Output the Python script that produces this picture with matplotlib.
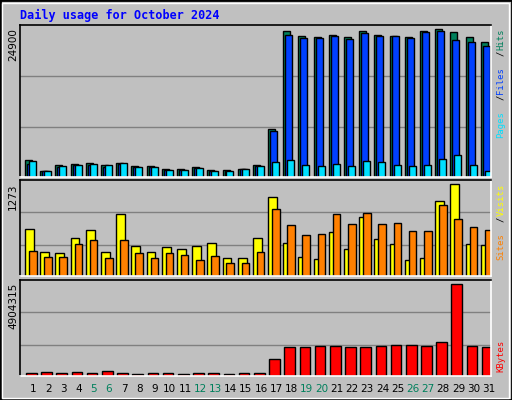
import matplotlib
matplotlib.use("Agg")
import matplotlib.pyplot as plt
from matplotlib.patches import Rectangle

days = list(range(1, 32))
weekends = [5, 6, 12, 13, 19, 20, 26, 27]
hits = [2845,1040,2025,2190,2350,2025,2350,1860,1860,1370,1370,1700,1200,1200,1370,2025,7930,
        23850,23030,22860,23190,22860,23850,23190,23030,22860,23850,24180,23690,22860,22040]
files = [2190,1040,1700,2020,2020,1700,2190,1700,1700,1200,1200,1530,1040,1040,1370,1860,7600,
         23190,22700,22700,23030,22540,23520,23030,23030,22700,23690,23850,22370,22040,21390]
pages = [2680,1040,1860,2020,2190,2020,2350,1700,1700,1200,1200,1530,1040,1040,1370,1860,2520,
         2840,2020,1860,2190,1860,2680,2520,2020,1860,2020,3010,3660,2020,1040]
visits = [650,332,318,526,636,332,858,415,332,401,373,415,456,249,249,526,1093,456,263,235,609,
          373,816,512,443,221,249,1037,1273,443,429]
sites = [346,263,263,443,498,249,498,318,249,318,290,221,277,180,180,332,927,705,567,581,857,
         719,871,719,733,622,622,982,788,678,636]
kbytes = [143190,196890,143190,196890,143190,250590,143190,89495,143190,143190,89495,143190,143190,
          89495,143190,143190,894950,1539300,1539300,1593000,1593000,1539300,1539300,1593000,
          1646700,1646700,1593000,1807800,4904315,1593000,1539300]
max_labels = ["24900", "1273", "4904315"]

BG = "#C0C0C0"
C_HITS, C_FILES, C_PAGES = "#00805C", "#0040FF", "#00E0FF"
C_VISITS, C_SITES, C_KB = "#FFFF00", "#FF8000", "#FF0000"

W, H = 512, 400
fig = plt.figure(figsize=(W/100, H/100), dpi=100, facecolor=BG)
fig.patches.append(Rectangle((0, 0), 1, 1, transform=fig.transFigure, fill=False, ec="black", lw=2))
fig.patches.append(Rectangle((2/W, 2/H), 1-5/W, 1-5/H, transform=fig.transFigure, fill=False, ec="white", lw=1))

def mkax(top, bottom):
    ax = fig.add_axes([20/W, 1-bottom/H, 471/W, (bottom-top)/H])
    ax.set_facecolor(BG)
    ax.set_xlim(0, 31)
    ax.set_xticks([]); ax.set_yticks([])
    for s in ["top", "left"]:
        ax.spines[s].set_color("black"); ax.spines[s].set_linewidth(1.2)
    for s in ["bottom", "right"]:
        ax.spines[s].set_color("white"); ax.spines[s].set_linewidth(1.2)
    return ax

def grid(ax, top):
    for f in (0.327, 0.662):
        ax.axhline(top*f, color="#808080", lw=1, zorder=0)

x0 = [d - 1 for d in days]
bkw = dict(edgecolor="black", linewidth=1, align="edge")

ax1 = mkax(25, 177)
t1 = 24900
ax1.set_ylim(0, t1)
grid(ax1, t1)
ax1.bar([x + 0.33 for x in x0], hits, width=0.46, color=C_HITS, **bkw)
ax1.bar([x + 0.46 for x in x0], files, width=0.46, color=C_FILES, **bkw)
ax1.bar([x + 0.59 for x in x0], pages, width=0.46, color=C_PAGES, **bkw)

ax2 = mkax(180, 276)
t2 = 1273 * 289/276
ax2.set_ylim(0, t2)
grid(ax2, t2)
ax2.bar([x + 0.33 for x in x0], visits, width=0.58, color=C_VISITS, **bkw)
ax2.bar([x + 0.59 for x in x0], sites, width=0.5, color=C_SITES, **bkw)

ax3 = mkax(280, 376)
t3 = 4904315 * 287/274
ax3.set_ylim(0, t3)
grid(ax3, t3)
ax3.bar([x + 0.4 for x in x0], kbytes, width=0.7, color=C_KB, **bkw)

for d in days:
    fig.text((20 + (d - 1 + 0.86) * 471/31)/W, 1-389/H, str(d), ha="center", va="center",
             fontsize=7.5, color=C_HITS if d in weekends else "black")

fig.text(20/W, 1-15/H, "Daily usage for October 2024", fontsize=8.5, fontweight="bold",
         family="DejaVu Sans Mono", color="#0000FF", va="center", ha="left")

for lab, top in zip(max_labels, (25, 180, 280)):
    fig.text(13/W, 1-(top+3)/H, lab, rotation=90, ha="center", va="top", fontsize=7.5)

def rlabel(parts, top):
    cw = 5.45
    k = 0
    for txt, col in reversed(parts):
        fig.text(501/W, 1-(top + k*cw)/H, txt.strip(), rotation=90, ha="center", va="top",
                 fontsize=6.4, family="DejaVu Sans Mono", color=col)
        k += len(txt)

rlabel([("Pages", C_PAGES), (" / ", "black"), ("Files", C_FILES), (" / ", "black"), ("Hits", C_HITS)], 29)
rlabel([("Sites", C_SITES), (" / ", "black"), ("Visits", C_VISITS)], 184)
rlabel([("KBytes", C_KB)], 340)

fig.savefig("out.png", dpi=100, facecolor=BG)
